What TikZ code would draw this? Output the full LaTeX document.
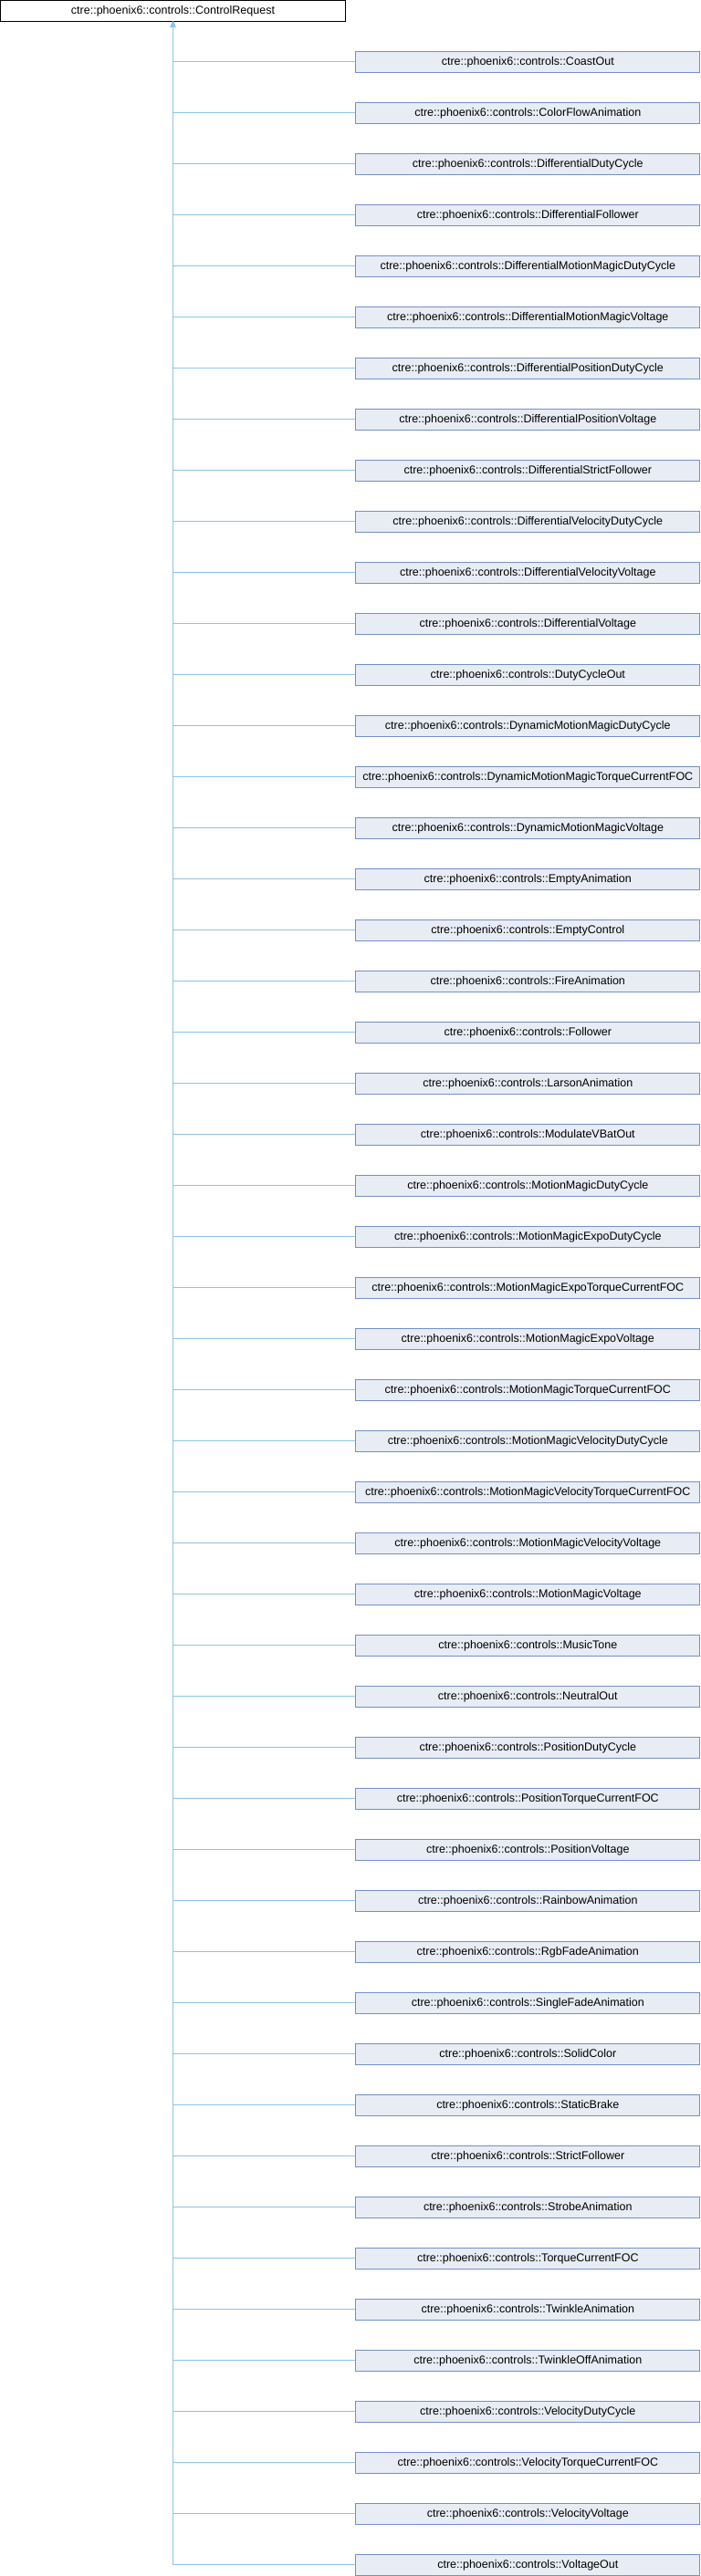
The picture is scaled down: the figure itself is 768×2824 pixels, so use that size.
\documentclass[tikz,border=0pt]{standalone}
\usepackage{fontspec}
\setmainfont{Liberation Sans}
\usepackage{xcolor}
\usetikzlibrary{arrows.meta}
\definecolor{boxfill}{HTML}{E8ECF4}
\definecolor{boxline}{HTML}{7490C8}
\definecolor{edgeline}{HTML}{8DC4E8}
\begin{document}
\begin{tikzpicture}[x=1pt, y=1pt, node distance={56pt},
	main/.style = {draw=black, line width=1pt, fill=white, minimum width=378pt, minimum height=22.5pt, inner sep=0pt, font=\fontsize{12.5}{14}\selectfont},
	child/.style = {draw=boxline, line width=1pt, fill=boxfill, minimum width=377pt, minimum height=22.5pt, inner sep=0pt, font=\fontsize{12.5}{14}\selectfont},
	edge/.style = {draw=edgeline, line width=1pt, -{Triangle[length=6pt, width=5pt]}}]
	\useasboundingbox (0,0) rectangle (768,-2824);
	\node[main] (root) at (189.5,-11.8) {ctre::phoenix6::controls::ControlRequest};
	\node[child] (c1) at (578.3,-67.8) {ctre::phoenix6::controls::CoastOut};
	\node[child] [below of=c1] (c2) {ctre::phoenix6::controls::ColorFlowAnimation};
	\node[child] [below of=c2] (c3) {ctre::phoenix6::controls::DifferentialDutyCycle};
	\node[child] [below of=c3] (c4) {ctre::phoenix6::controls::DifferentialFollower};
	\node[child] [below of=c4] (c5) {ctre::phoenix6::controls::DifferentialMotionMagicDutyCycle};
	\node[child] [below of=c5] (c6) {ctre::phoenix6::controls::DifferentialMotionMagicVoltage};
	\node[child] [below of=c6] (c7) {ctre::phoenix6::controls::DifferentialPositionDutyCycle};
	\node[child] [below of=c7] (c8) {ctre::phoenix6::controls::DifferentialPositionVoltage};
	\node[child] [below of=c8] (c9) {ctre::phoenix6::controls::DifferentialStrictFollower};
	\node[child] [below of=c9] (c10) {ctre::phoenix6::controls::DifferentialVelocityDutyCycle};
	\node[child] [below of=c10] (c11) {ctre::phoenix6::controls::DifferentialVelocityVoltage};
	\node[child] [below of=c11] (c12) {ctre::phoenix6::controls::DifferentialVoltage};
	\node[child] [below of=c12] (c13) {ctre::phoenix6::controls::DutyCycleOut};
	\node[child] [below of=c13] (c14) {ctre::phoenix6::controls::DynamicMotionMagicDutyCycle};
	\node[child] [below of=c14] (c15) {ctre::phoenix6::controls::DynamicMotionMagicTorqueCurrentFOC};
	\node[child] [below of=c15] (c16) {ctre::phoenix6::controls::DynamicMotionMagicVoltage};
	\node[child] [below of=c16] (c17) {ctre::phoenix6::controls::EmptyAnimation};
	\node[child] [below of=c17] (c18) {ctre::phoenix6::controls::EmptyControl};
	\node[child] [below of=c18] (c19) {ctre::phoenix6::controls::FireAnimation};
	\node[child] [below of=c19] (c20) {ctre::phoenix6::controls::Follower};
	\node[child] [below of=c20] (c21) {ctre::phoenix6::controls::LarsonAnimation};
	\node[child] [below of=c21] (c22) {ctre::phoenix6::controls::ModulateVBatOut};
	\node[child] [below of=c22] (c23) {ctre::phoenix6::controls::MotionMagicDutyCycle};
	\node[child] [below of=c23] (c24) {ctre::phoenix6::controls::MotionMagicExpoDutyCycle};
	\node[child] [below of=c24] (c25) {ctre::phoenix6::controls::MotionMagicExpoTorqueCurrentFOC};
	\node[child] [below of=c25] (c26) {ctre::phoenix6::controls::MotionMagicExpoVoltage};
	\node[child] [below of=c26] (c27) {ctre::phoenix6::controls::MotionMagicTorqueCurrentFOC};
	\node[child] [below of=c27] (c28) {ctre::phoenix6::controls::MotionMagicVelocityDutyCycle};
	\node[child] [below of=c28] (c29) {ctre::phoenix6::controls::MotionMagicVelocityTorqueCurrentFOC};
	\node[child] [below of=c29] (c30) {ctre::phoenix6::controls::MotionMagicVelocityVoltage};
	\node[child] [below of=c30] (c31) {ctre::phoenix6::controls::MotionMagicVoltage};
	\node[child] [below of=c31] (c32) {ctre::phoenix6::controls::MusicTone};
	\node[child] [below of=c32] (c33) {ctre::phoenix6::controls::NeutralOut};
	\node[child] [below of=c33] (c34) {ctre::phoenix6::controls::PositionDutyCycle};
	\node[child] [below of=c34] (c35) {ctre::phoenix6::controls::PositionTorqueCurrentFOC};
	\node[child] [below of=c35] (c36) {ctre::phoenix6::controls::PositionVoltage};
	\node[child] [below of=c36] (c37) {ctre::phoenix6::controls::RainbowAnimation};
	\node[child] [below of=c37] (c38) {ctre::phoenix6::controls::RgbFadeAnimation};
	\node[child] [below of=c38] (c39) {ctre::phoenix6::controls::SingleFadeAnimation};
	\node[child] [below of=c39] (c40) {ctre::phoenix6::controls::SolidColor};
	\node[child] [below of=c40] (c41) {ctre::phoenix6::controls::StaticBrake};
	\node[child] [below of=c41] (c42) {ctre::phoenix6::controls::StrictFollower};
	\node[child] [below of=c42] (c43) {ctre::phoenix6::controls::StrobeAnimation};
	\node[child] [below of=c43] (c44) {ctre::phoenix6::controls::TorqueCurrentFOC};
	\node[child] [below of=c44] (c45) {ctre::phoenix6::controls::TwinkleAnimation};
	\node[child] [below of=c45] (c46) {ctre::phoenix6::controls::TwinkleOffAnimation};
	\node[child] [below of=c46] (c47) {ctre::phoenix6::controls::VelocityDutyCycle};
	\node[child] [below of=c47] (c48) {ctre::phoenix6::controls::VelocityTorqueCurrentFOC};
	\node[child] [below of=c48] (c49) {ctre::phoenix6::controls::VelocityVoltage};
	\node[child] [below of=c49] (c50) {ctre::phoenix6::controls::VoltageOut};
	% inheritance edges, child to base
	\draw[edge] (c1.west) -| (root.south);
	\draw[edge] (c2.west) -| (root.south);
	\draw[edge] (c3.west) -| (root.south);
	\draw[edge] (c4.west) -| (root.south);
	\draw[edge] (c5.west) -| (root.south);
	\draw[edge] (c6.west) -| (root.south);
	\draw[edge] (c7.west) -| (root.south);
	\draw[edge] (c8.west) -| (root.south);
	\draw[edge] (c9.west) -| (root.south);
	\draw[edge] (c10.west) -| (root.south);
	\draw[edge] (c11.west) -| (root.south);
	\draw[edge] (c12.west) -| (root.south);
	\draw[edge] (c13.west) -| (root.south);
	\draw[edge] (c14.west) -| (root.south);
	\draw[edge] (c15.west) -| (root.south);
	\draw[edge] (c16.west) -| (root.south);
	\draw[edge] (c17.west) -| (root.south);
	\draw[edge] (c18.west) -| (root.south);
	\draw[edge] (c19.west) -| (root.south);
	\draw[edge] (c20.west) -| (root.south);
	\draw[edge] (c21.west) -| (root.south);
	\draw[edge] (c22.west) -| (root.south);
	\draw[edge] (c23.west) -| (root.south);
	\draw[edge] (c24.west) -| (root.south);
	\draw[edge] (c25.west) -| (root.south);
	\draw[edge] (c26.west) -| (root.south);
	\draw[edge] (c27.west) -| (root.south);
	\draw[edge] (c28.west) -| (root.south);
	\draw[edge] (c29.west) -| (root.south);
	\draw[edge] (c30.west) -| (root.south);
	\draw[edge] (c31.west) -| (root.south);
	\draw[edge] (c32.west) -| (root.south);
	\draw[edge] (c33.west) -| (root.south);
	\draw[edge] (c34.west) -| (root.south);
	\draw[edge] (c35.west) -| (root.south);
	\draw[edge] (c36.west) -| (root.south);
	\draw[edge] (c37.west) -| (root.south);
	\draw[edge] (c38.west) -| (root.south);
	\draw[edge] (c39.west) -| (root.south);
	\draw[edge] (c40.west) -| (root.south);
	\draw[edge] (c41.west) -| (root.south);
	\draw[edge] (c42.west) -| (root.south);
	\draw[edge] (c43.west) -| (root.south);
	\draw[edge] (c44.west) -| (root.south);
	\draw[edge] (c45.west) -| (root.south);
	\draw[edge] (c46.west) -| (root.south);
	\draw[edge] (c47.west) -| (root.south);
	\draw[edge] (c48.west) -| (root.south);
	\draw[edge] (c49.west) -| (root.south);
	\draw[edge] (c50.west) -| (root.south);
\end{tikzpicture}
\end{document}
